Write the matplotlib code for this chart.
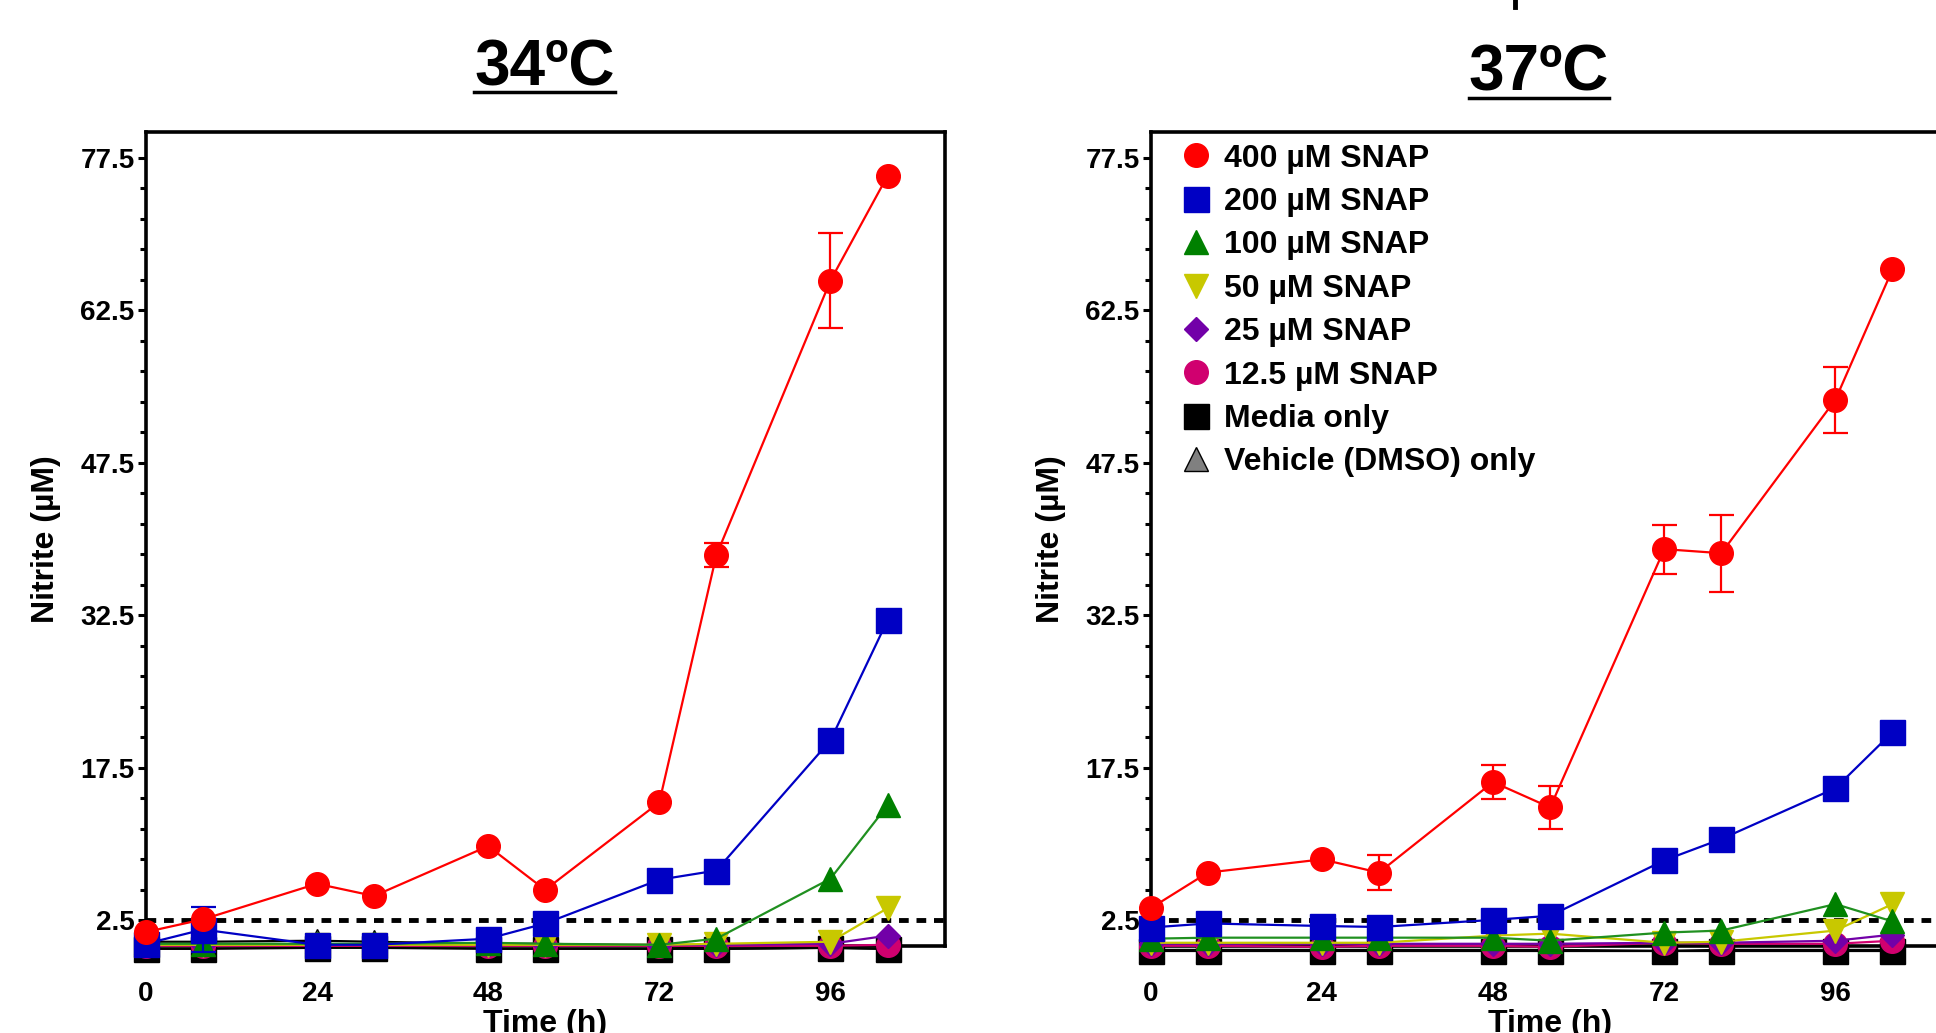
import numpy as np
import matplotlib
matplotlib.use("Agg")
from matplotlib import pyplot as plt
from matplotlib.lines import Line2D
from matplotlib.ticker import FixedLocator

plt.rcParams['font.family'] = ['Liberation Sans', 'DejaVu Sans']
plt.rcParams['font.weight'] = 'bold'

# ---- data ----
time_h = [0, 8, 24, 32, 48, 56, 72, 80, 96, 104]
series_labels = ['400 µM SNAP', '200 µM SNAP', '100 µM SNAP', '50 µM SNAP',
                 '25 µM SNAP', '12.5 µM SNAP', 'Media only', 'Vehicle (DMSO) only']
panel_titles = ['34ºC', '37ºC']

# 34ºC
snap400_34 = [1.35, 2.6, 6.1, 4.9, 9.8, 5.5, 14.1, 38.4, 65.4, 75.7]
snap400_34_err = [0, 0, 0, 0, 0, 0, 0, 1.2, 4.7, 0]
snap200_34 = [0.2, 1.6, 0.1, 0.1, 0.7, 2.2, 6.5, 7.4, 20.2, 32.0]
snap200_34_err = [0, 2.2, 0, 0, 0, 0, 0, 0, 0, 0]
snap100_34 = [0.2, 0.2, 0.2, 0.2, 0.3, 0.2, 0.1, 0.7, 6.6, 13.8]
snap50_34 = [0.1, 0.1, 0.1, 0.1, 0.1, 0.1, 0.1, 0.2, 0.4, 3.7]
snap25_34 = [0.1, 0.1, 0.1, 0.1, 0.1, 0.1, 0.1, 0.1, 0.2, 1.0]
snap12_34 = [0.0, 0.0, 0.0, 0.0, 0.0, 0.0, 0.0, 0.0, 0.0, 0.1]
media_34 = [-0.3, -0.3, -0.2, -0.2, -0.3, -0.3, -0.3, -0.3, -0.2, -0.3]
vehicle_34 = [0.4, 0.4, 0.5, 0.4, 0.2, 0.2, 0.0, -0.3, -0.2, -0.3]

# 37ºC
snap400_37 = [3.7, 7.2, 8.5, 7.2, 16.1, 13.6, 39.0, 38.6, 53.7, 66.5]
snap400_37_err = [0, 0, 0, 1.7, 1.65, 2.15, 2.4, 3.8, 3.25, 0]
snap200_37 = [1.8, 2.2, 1.95, 1.85, 2.55, 2.95, 8.4, 10.5, 15.5, 21.0]
snap200_37_err = [0, 0, 0, 0, 0, 0, 0, 0, 0, 0]
snap100_37 = [0.7, 0.8, 0.8, 0.8, 0.8, 0.5, 1.3, 1.5, 4.1, 2.4]
snap50_37 = [0.3, 0.3, 0.3, 0.3, 1.0, 1.2, 0.3, 0.4, 1.5, 4.1]
snap25_37 = [0.2, 0.2, 0.2, 0.2, 0.2, 0.2, 0.3, 0.3, 0.5, 1.1]
snap12_37 = [0.0, 0.0, -0.1, 0.0, 0.0, -0.1, 0.3, 0.2, 0.2, 0.5]
media_37 = [-0.5, -0.5, -0.5, -0.5, -0.5, -0.5, -0.5, -0.5, -0.5, -0.5]
vehicle_37 = [-0.4, -0.4, -0.4, -0.4, -0.4, -0.4, -0.5, -0.4, -0.4, -0.4]

# ---- styles ----
colors = ['#ff0000', '#0000c4', '#008000', '#c8c800', '#7200a8', '#d0006f', '#000000', '#808080']
markers = ['o', 's', '^', 'v', 'D', 'o', 's', '^']
msizes = [17, 18, 17, 17, 12, 17, 18, 17]
edges = ['#ff0000', '#0000c4', '#008000', '#c8c800', '#7200a8', '#d0006f', '#000000', '#000000']
line_colors = ['#ff0000', '#0000c4', '#209020', '#c8c800', '#7200a8', '#d0006f', '#000000', '#000000']

fig = plt.figure(figsize=(19.36, 10.33), dpi=100)
ax_l = fig.add_axes([0.0753, 0.0844, 0.4126, 0.7877])
ax_r = fig.add_axes([0.5944, 0.0844, 0.4126, 0.7877])


def draw_panel(ax, series, errs):
    for i in reversed(range(len(series))):
        ax.plot(time_h, series[i], color=line_colors[i], lw=1.6, marker=markers[i],
                ms=msizes[i], mfc=colors[i], mec=edges[i], mew=1, clip_on=False, zorder=3)
        if i in errs:
            ax.errorbar(time_h, series[i], yerr=errs[i], fmt='none', ecolor=colors[i],
                        elinewidth=1.6, capsize=9, capthick=1.6, clip_on=False, zorder=3)
    ax.axhline(2.5, color='black', ls=(0, (2.0, 1.6)), lw=3.5, zorder=2.5)
    ax.set_xlim(0, 112)
    ax.set_ylim(0, 80)
    ax.set_xticks([0, 24, 48, 72, 96])
    ax.set_yticks([2.5, 17.5, 32.5, 47.5, 62.5, 77.5])
    ax.yaxis.set_minor_locator(FixedLocator([v for v in np.arange(5.5, 80, 3.0) if (v - 2.5) % 15 != 0]))
    ax.tick_params(axis='y', which='major', direction='out', length=6, width=2.2, labelsize=20, pad=2)
    ax.tick_params(axis='y', which='minor', direction='out', length=4, width=2.2)
    ax.tick_params(axis='x', which='major', direction='out', length=5, width=2.2, labelsize=20, pad=20)
    for sp in ax.spines.values():
        sp.set_linewidth(2.6)
    ax.set_ylabel('Nitrite (µM)', fontsize=23, fontweight='bold', labelpad=14)
    ax.set_xlabel('Time (h)', fontsize=23, fontweight='bold', labelpad=2)


draw_panel(ax_l, [snap400_34, snap200_34, snap100_34, snap50_34, snap25_34, snap12_34, media_34, vehicle_34],
           {0: snap400_34_err, 1: snap200_34_err})
draw_panel(ax_r, [snap400_37, snap200_37, snap100_37, snap50_37, snap25_37, snap12_37, media_37, vehicle_37],
           {0: snap400_37_err, 1: snap200_37_err})

# legend in the 37ºC panel, markers only
handles = [Line2D([], [], ls='none', marker=markers[i], ms=msizes[i], mfc=colors[i], mec=edges[i], mew=1)
           for i in range(len(series_labels))]
ax_r.legend(handles, series_labels, loc='upper left', bbox_to_anchor=(0.038, 0.986), frameon=False,
            handlelength=0.95, handletextpad=0.4, labelspacing=0.42,
            borderpad=0, borderaxespad=0, prop={'weight': 'bold', 'size': 23})

# underlined panel titles
titles = []
titles.append(fig.text(544.6 / 1936, 1 - 85 / 1033, panel_titles[0], ha='center', va='baseline',
                       fontsize=46, fontweight='bold'))
titles.append(fig.text(1539 / 1936, 1 - 90.7 / 1033, panel_titles[1], ha='center', va='baseline',
                       fontsize=46, fontweight='bold'))
fig.canvas.draw()
r = fig.canvas.get_renderer()
for t in titles:
    bb = t.get_window_extent(r).transformed(fig.transFigure.inverted())
    yb = t.get_position()[1] - 7 / 1033
    fig.add_artist(Line2D([bb.x0, bb.x1], [yb, yb], transform=fig.transFigure, color='black', lw=2.5))

# small fragment of a cut-off label at the very top
fig.add_artist(Line2D([1515 / 1936, 1515 / 1936], [1.0, 1 - 7 / 1033], transform=fig.transFigure,
                      color='black', lw=3.5))

fig.savefig('out.png', dpi=100)
